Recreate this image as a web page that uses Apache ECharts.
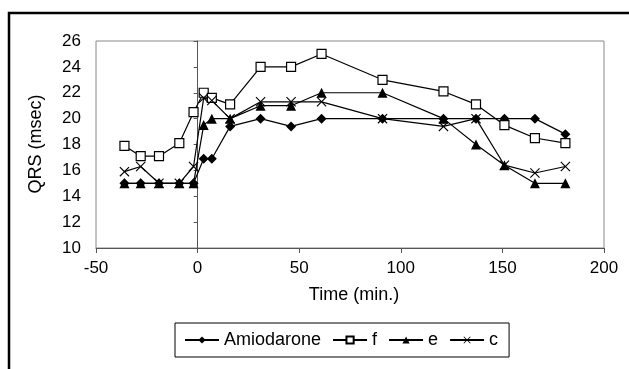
<!DOCTYPE html>
<html>
<head>
<meta charset="utf-8">
<script src="https://cdn.jsdelivr.net/npm/echarts@6/dist/echarts.min.js"></script>
<style>
html,body{margin:0;padding:0;background:#fff;}
#chart{width:629px;height:369px;}
</style>
</head>
<body>
<div id="chart"></div>
<script>
var times = [-36, -28, -19, -9, -2, 3, 7, 16, 31, 46, 61, 91, 121, 137, 151, 166, 181];
var amiodarone = [15, 15, 15, 15, 15, 16.9, 16.9, 19.4, 20, 19.4, 20, 20, 20, 20, 20, 20, 18.8];
var seriesF = [17.9, 17.1, 17.1, 18.1, 20.5, 22.0, 21.6, 21.1, 24, 24, 25, 23, 22.1, 21.1, 19.5, 18.5, 18.1];
var seriesE = [15, 15, 15, 15, 15, 19.5, 20, 20, 21, 21, 22, 22, 20, 18, 16.4, 15, 15];
var seriesC = [15.9, 16.3, 15, 15, 16.3, 21.6, 21.4, 20, 21.3, 21.3, 21.3, 20, 19.4, 20, 16.4, 15.8, 16.3];
var seriesNames = ['Amiodarone', 'f', 'e', 'c'];
var xTitle = 'Time (min.)';
var yTitle = 'QRS (msec)';

function pairs(vals) {
  return times.map(function (t, i) { return [t, vals[i]]; });
}
var FONT = '"Liberation Sans", Arial, sans-serif';
var crossPath = 'path://M0,0.8L0.8,0L5,4.2L9.2,0L10,0.8L5.8,5L10,9.2L9.2,10L5,5.8L0.8,10L0,9.2L4.2,5Z';

function mkSeries(name, vals, symbol, size, fill) {
  return {
    name: name,
    type: 'line',
    data: pairs(vals),
    symbol: symbol,
    symbolSize: size,
    showAllSymbol: true,
    lineStyle: { color: '#000', width: 1.2 },
    itemStyle: { color: fill, borderColor: '#000', borderWidth: fill === '#fff' ? 1.2 : 0 },
    emphasis: { disabled: true },
    animation: false,
    z: 3
  };
}

var chart = echarts.init(document.getElementById('chart'), null, { renderer: 'canvas' });
chart.setOption({
  animation: false,
  backgroundColor: '#fff',
  textStyle: { fontFamily: FONT },
  grid: {
    left: 96, top: 41, right: 25, bottom: 121,
    show: true, borderColor: '#888', borderWidth: 1,
    outerBoundsMode: 'none'
  },
  xAxis: {
    type: 'value', min: -50, max: 200, interval: 50,
    axisLine: { show: true, onZero: false, lineStyle: { color: '#555', width: 1 } },
    axisTick: { show: true, length: 5, lineStyle: { color: '#555' } },
    axisLabel: { color: '#000', fontSize: 17, fontFamily: FONT, margin: 12 },
    splitLine: { show: false }
  },
  yAxis: [{
    type: 'value', min: 10, max: 26, interval: 2, position: 'left',
    axisLine: { show: false, onZero: false },
    axisTick: { show: false },
    axisLabel: { color: '#000', fontSize: 17, fontFamily: FONT, margin: 15 },
    splitLine: { show: false }
  }, {
    type: 'value', min: 10, max: 26, interval: 2, position: 'left',
    axisLine: { show: true, onZero: true, onZeroAxisIndex: 0, lineStyle: { color: '#555', width: 1 } },
    axisTick: { show: true, length: 4, lineStyle: { color: '#555' } },
    axisLabel: { show: false },
    splitLine: { show: false }
  }],
  legend: {
    left: 175, top: 323,
    padding: [8, 11, 8, 9],
    borderColor: '#000', borderWidth: 1,
    itemWidth: 34, itemHeight: 9, itemGap: 11,
    textStyle: { color: '#000', fontSize: 18, fontFamily: FONT },
    data: seriesNames,
    selectedMode: false
  },
  graphic: [
    { type: 'polyline', shape: { points: [[9, 369], [9, 13], [629, 13]] }, style: { stroke: '#000', lineWidth: 2.5, fill: null } },
    { type: 'text', x: 36, y: 144, rotation: Math.PI / 2, style: { text: yTitle, fontSize: 18, fontFamily: FONT, fill: '#000', align: 'center', verticalAlign: 'middle' } },
    { type: 'text', x: 354, y: 295, style: { text: xTitle, fontSize: 18, fontFamily: FONT, fill: '#000', align: 'center', verticalAlign: 'middle' } }
  ],
  series: [
    mkSeries(seriesNames[0], amiodarone, 'diamond', 10, '#000'),
    mkSeries(seriesNames[1], seriesF, 'rect', 9, '#fff'),
    mkSeries(seriesNames[2], seriesE, 'triangle', 10, '#000'),
    mkSeries(seriesNames[3], seriesC, crossPath, 10, '#000')
  ]
});
</script>
</body>
</html>
